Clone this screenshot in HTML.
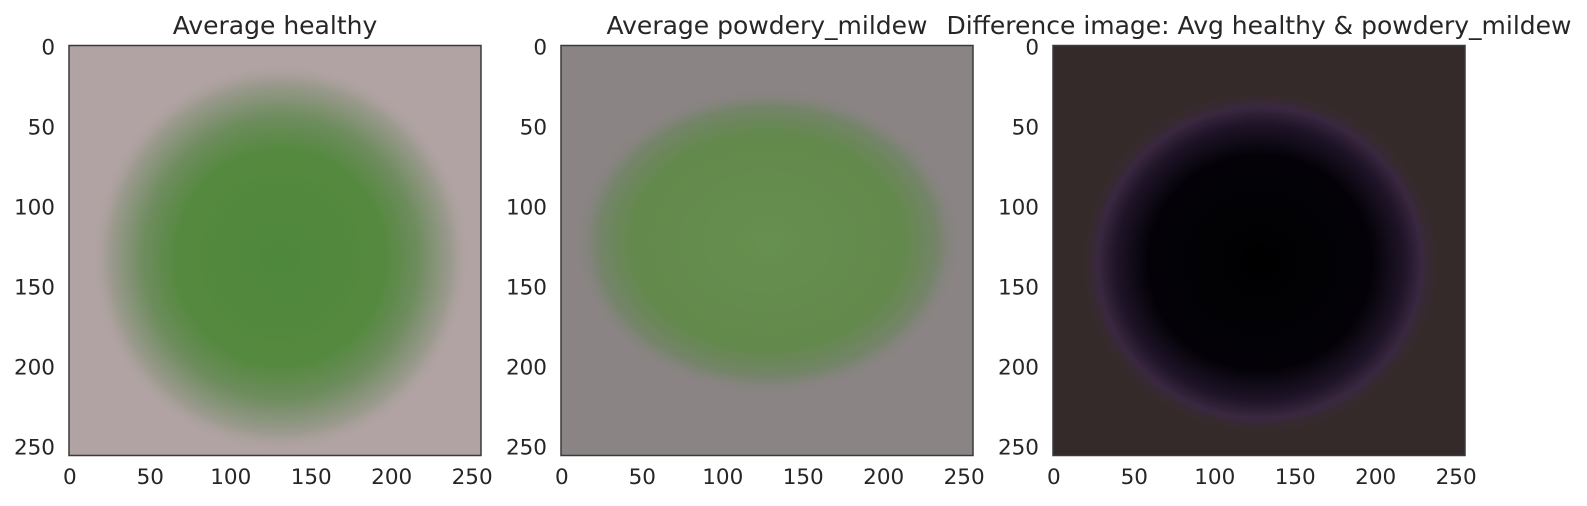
<!DOCTYPE html>
<html><head><meta charset="utf-8"><style>
html,body{margin:0;padding:0;background:#fff;}
svg{display:block;font-family:"DejaVu Sans","Liberation Sans",sans-serif;}
</style></head><body>
<svg id="fig" width="1587" height="506" viewBox="0 0 1587 506">
<defs>
<radialGradient id="g1" cx="0.5" cy="0.5" r="0.5">
<stop offset="0" stop-color="#4e883c"/><stop offset="0.55" stop-color="#55893f"/><stop offset="0.72" stop-color="#6e8c5e"/><stop offset="0.9" stop-color="#9c9a8f"/><stop offset="1" stop-color="#b1a3a3" stop-opacity="0"/>
</radialGradient>
<radialGradient id="g2" cx="0.5" cy="0.5" r="0.5">
<stop offset="0" stop-color="#66904f"/><stop offset="0.7" stop-color="#63894c"/><stop offset="0.88" stop-color="#75846a"/><stop offset="1" stop-color="#8a8484" stop-opacity="0"/>
</radialGradient>
<radialGradient id="g3" cx="0.5" cy="0.5" r="0.5">
<stop offset="0" stop-color="#000000"/><stop offset="0.62" stop-color="#040208"/><stop offset="0.8" stop-color="#1f1428"/><stop offset="0.9" stop-color="#3a2840"/><stop offset="1" stop-color="#352a2a" stop-opacity="0"/>
</radialGradient>
</defs>
<g id="panels"></g>
</svg>
<script>
const titles = ["Average healthy","Average powdery_mildew","Difference image: Avg healthy & powdery_mildew"];
const tickVals = [0,50,100,150,200,250];
const bgColors = ["#b1a3a3","#8a8484","#352a2a"];
const blobs = ["url(#g1)","url(#g2)","url(#g3)"];
const blobCx = [131,128,128];
const blobCy = [132,122,135];
const blobRx = [118,120,112];
const blobRy = [122,96,108];
const NS="http://www.w3.org/2000/svg";
const root=document.getElementById('panels');
const size=412, axTop=45.5, axH=410, left0=69, step=492, extent=256;
function mk(t,a,p){const e=document.createElementNS(NS,t);for(const k in a)e.setAttribute(k,a[k]);(p||root).appendChild(e);return e;}
titles.forEach((t,i)=>{
  const L=left0+i*step;
  const sx=v=>L+(v+0.5)/extent*size;
  const sy=v=>axTop+(v+0.5)/extent*axH;
  const g=mk('g',{});
  
  
  const bg=mk('rect',{x:L,y:axTop,width:size,height:axH,fill:bgColors[i]},g);
  
  
  const bl=mk('ellipse',{cx:sx(blobCx[i]),cy:sy(blobCy[i]),rx:blobRx[i]/extent*size,ry:blobRy[i]/extent*axH,fill:blobs[i]},g);
  
  
  const fr=mk('rect',{x:L,y:axTop,width:size,height:axH,fill:'none',stroke:'#3a3a3a','stroke-width':1.5},g);
  
  
  const tt=mk('text',{x:L+size/2,y:34,'text-anchor':'middle','font-size':25,fill:'#262626'},g);
  tt.textContent=t;
  
  
  tickVals.forEach(v=>{
    const xt=mk('text',{x:sx(v),y:484,'text-anchor':'middle','font-size':21.5,fill:'#262626'},g);
    xt.textContent=v;
    
    
    const yt=mk('text',{x:L-14,y:sy(v)+8,'text-anchor':'end','font-size':21.5,fill:'#262626'},g);
    yt.textContent=v;
    
    
  });
});
</script>
</body></html>
